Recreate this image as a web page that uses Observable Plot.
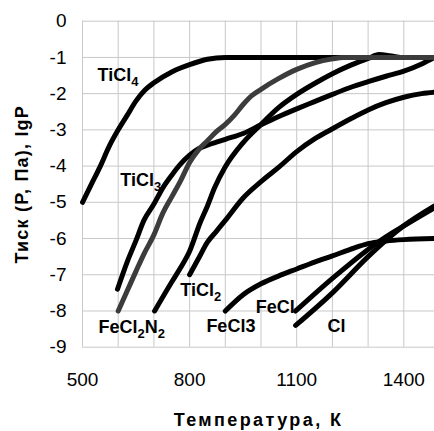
<!DOCTYPE html>
<html><head><meta charset="utf-8">
<script src="https://cdn.jsdelivr.net/npm/d3@7"></script>
<script src="https://cdn.jsdelivr.net/npm/@observablehq/plot@0.6"></script>
<style>
body{margin:0;background:#fff;}
svg{font-family:"Liberation Sans",Arial,sans-serif;}
</style>
</head><body><div id="chart"></div>
<script>
// Temperature (K) and lgP values per species
const tiCl4X = [500,525,550,575,600,625,650,675,700,750,800,850,900,1486];
const tiCl4Y = [-5.0,-4.5,-4.0,-3.45,-3.0,-2.6,-2.2,-1.9,-1.7,-1.4,-1.2,-1.05,-1.0,-1.0];

const tiCl3X = [598,625,650,672,700,725,750,775,800,825,850,875,900,950,1000,1050,1100,1150,1200,1250,1300,1350,1400,1450,1486];
const tiCl3Y = [-7.4,-6.65,-6.05,-5.5,-5.05,-4.6,-4.25,-3.94,-3.7,-3.52,-3.42,-3.34,-3.26,-3.1,-2.86,-2.63,-2.42,-2.22,-2.02,-1.83,-1.67,-1.52,-1.38,-1.18,-1.0];

const feCl2X = [600,625,650,672,700,725,750,775,800,825,850,875,900,925,950,975,1000,1050,1100,1150,1200,1230,1486];
const feCl2Y = [-8.0,-7.45,-6.9,-6.43,-5.9,-5.3,-4.85,-4.4,-3.9,-3.55,-3.3,-3.05,-2.85,-2.6,-2.3,-2.05,-1.88,-1.58,-1.33,-1.15,-1.04,-1.0,-1.0];

const n2X = [702,750,775,800,830,850,870,900,950,1000,1050,1100,1150,1200,1250,1300,1330,1360,1390];
const n2Y = [-8.0,-7.2,-6.8,-6.35,-5.55,-5.1,-4.6,-4.02,-3.35,-2.85,-2.38,-2.02,-1.72,-1.45,-1.22,-1.03,-0.92,-0.95,-1.0];

const tiCl2X = [800,825,850,875,900,950,1000,1050,1100,1150,1200,1250,1300,1350,1400,1450,1486];
const tiCl2Y = [-7.0,-6.55,-6.1,-5.8,-5.5,-4.88,-4.43,-4.03,-3.6,-3.25,-2.97,-2.7,-2.45,-2.25,-2.1,-2.0,-1.96];

const feCl3X = [900,950,1000,1050,1100,1150,1200,1250,1300,1350,1400,1486];
const feCl3Y = [-8.0,-7.55,-7.25,-7.03,-6.84,-6.65,-6.48,-6.3,-6.14,-6.07,-6.03,-6.0];

const feClX = [1097,1200,1300,1350,1400,1486];
const feClY = [-8.0,-7.1,-6.3,-5.95,-5.65,-5.15];

const clX = [1097,1200,1300,1350,1400,1486];
const clY = [-8.4,-7.5,-6.5,-6.05,-5.65,-5.1];

const seriesList = [
  ["TiCl4", tiCl4X, tiCl4Y, "black"],
  ["TiCl3", tiCl3X, tiCl3Y, "black"],
  ["N2", n2X, n2Y, "black"],
  ["TiCl2", tiCl2X, tiCl2Y, "black"],
  ["FeCl3", feCl3X, feCl3Y, "black"],
  ["FeCl", feClX, feClY, "black"],
  ["Cl", clX, clY, "black"],
  ["FeCl2", feCl2X, feCl2Y, "#3c3c3c"]
];

// Labels (underscore marks a subscript digit)
const labelText = ["TiCl_4","TiCl_3","FeCl_2N_2","TiCl_2","FeCl3","FeCl","Cl"];
const labelX = [542,606,545,774,847,985,1186];
const labelY = [-1.5,-4.4,-8.46,-7.44,-8.41,-7.9,-8.41];

const xTicks = [500,800,1100,1400];
const yTicks = [-9,-8,-7,-6,-5,-4,-3,-2,-1,0];
const xGrid = [500,600,700,800,900,1000,1100,1200,1300,1400];

const xTitle = "Температура, К";
const yTitle = "Тиск (P, Па), lgP";

const rows = [];
for (const [name, xs, ys, color] of seriesList) {
  xs.forEach((x, i) => rows.push({name, x, y: ys[i], color}));
}
const labels = labelText.map((t, i) => ({t, x: labelX[i], y: labelY[i]}));

const lineMarks = seriesList.map(([name]) =>
  Plot.line(rows.filter(r => r.name === name), {
    x: "x", y: "y", stroke: d => d.color, curve: "monotone-x",
    strokeWidth: 5, strokeLinecap: "round", strokeLinejoin: "round"
  })
);

const chart = Plot.plot({
  width: 434, height: 431,
  marginLeft: 82, marginRight: 0, marginTop: 20.7, marginBottom: 84.3,
  style: {fontFamily: '"Liberation Sans", Arial, sans-serif', background: "white"},
  x: {domain: [500, 1486]},
  y: {domain: [-9, 0]},
  color: {type: "identity"},
  marks: [
    Plot.gridX(xGrid, {stroke: "#c8c8c8", strokeOpacity: 1, strokeWidth: 1}),
    Plot.gridY(yTicks, {stroke: "#c8c8c8", strokeOpacity: 1, strokeWidth: 1}),
    Plot.axisX(xTicks, {tickSize: 0, tickPadding: 25, fontSize: 19, label: null, fill: "black", tickFormat: d => String(d)}),
    Plot.axisY(yTicks, {tickSize: 0, tickPadding: 16, fontSize: 19, label: null, fill: "black", tickFormat: d => String(d)}),
    ...lineMarks,
    Plot.text(labels, {x: "x", y: "y", text: "t", textAnchor: "start", lineAnchor: "middle",
      fontSize: 18, fontWeight: "bold", fill: "black"}),
    Plot.text([xTitle], {frameAnchor: "bottom", dy: 73, textAnchor: "middle", lineAnchor: "middle",
      fontSize: 18, fontWeight: "bold", fill: "black"}),
    Plot.text([yTitle], {frameAnchor: "left", dx: -60, rotate: -90, textAnchor: "middle", lineAnchor: "middle",
      fontSize: 18, fontWeight: "bold", fill: "black"})
  ]
});

const allText = d3.select(chart).selectAll("text");
// letter spacing on the titles
allText.filter(function() { return this.textContent === xTitle; }).style("letter-spacing", "2.4px");
allText.filter(function() { return this.textContent === yTitle; }).style("letter-spacing", "1.2px");

// convert "_d" into subscripts
allText.filter(function() { return this.textContent.includes("_"); }).each(function() {
  const el = d3.select(this);
  const parts = this.textContent.split(/_(\d)/);
  el.selectAll("*").remove();
  el.text(null);
  let lowered = false;
  parts.forEach((p, i) => {
    if (!p) return;
    if (i % 2 === 1) {
      el.append("tspan").attr("font-size", 13).attr("dy", 5).text(p);
      lowered = true;
    } else {
      const t = el.append("tspan").text(p);
      if (lowered) { t.attr("dy", -5); lowered = false; }
    }
  });
});

document.getElementById("chart").appendChild(chart);
</script>
</body></html>
